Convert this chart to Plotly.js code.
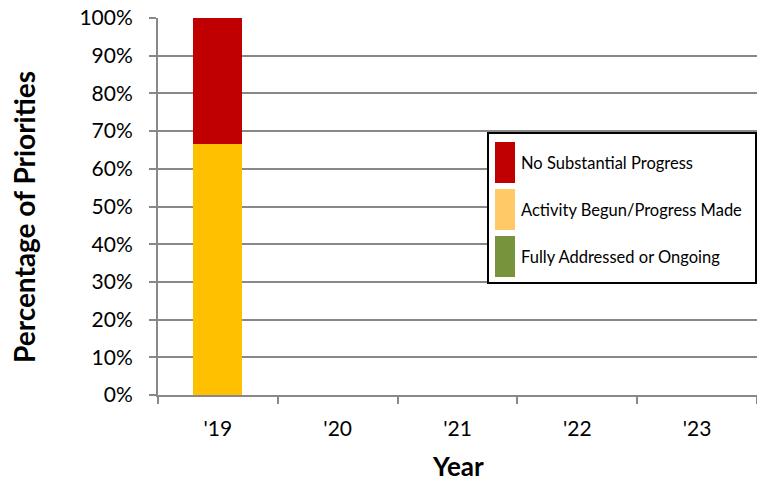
<!DOCTYPE html>
<html><head><meta charset="utf-8">
<script src="https://cdn.plot.ly/plotly-3.0.1.min.js"></script>
<style>html,body{margin:0;padding:0;background:#fff;}#chart{width:757px;height:482px;}</style>
</head><body><div id="chart"></div>
<script>
// ---- data ----
const years = ["'19", "'20", "'21", "'22", "'23"];
const fullyAddressed = [0, null, null, null, null];
const activityBegun = [0.667, null, null, null, null];
const noProgress = [0.333, null, null, null, null];
const seriesNames = ["No Substantial Progress", "Activity Begun/Progress Made", "Fully Addressed or Ongoing"];
const barColors = ["#C00000", "#FFC000", "#77933C"];
const legendColors = ["#C00000", "#FFC966", "#77933C"];
const yTickVals = [0, 0.1, 0.2, 0.3, 0.4, 0.5, 0.6, 0.7, 0.8, 0.9, 1.0];
const xTitle = "Year";
const yTitle = "Percentage of Priorities";

const W = 757, H = 482;
const M = {l: 158, r: 0, t: 18, b: 87};
const pw = W - M.l - M.r, ph = H - M.t - M.b;
const px = x => (x - M.l) / pw;
const py = y => (H - M.b - y) / ph;

const FONT = "Lato, 'Liberation Sans', sans-serif";
const bw = 0.41;

const traces = [
  {type: 'bar', x: years, y: fullyAddressed, name: seriesNames[2], marker: {color: barColors[2]}, width: bw},
  {type: 'bar', x: years, y: activityBegun, name: seriesNames[1], marker: {color: barColors[1]}, width: bw},
  {type: 'bar', x: years, y: noProgress, name: seriesNames[0], marker: {color: barColors[0]}, width: bw}
];

// legend box built from series names/colours
const shapes = [{type: 'rect', xref: 'paper', yref: 'paper', x0: px(488), x1: px(756), y0: py(283), y1: py(133),
  line: {color: '#000', width: 2}, fillcolor: '#fff', layer: 'above'}];
const annotations = [];
const rowTops = [142, 189, 236];
for (let i = 0; i < 3; i++) {
  shapes.push({type: 'rect', xref: 'paper', yref: 'paper', x0: px(495), x1: px(515), y0: py(rowTops[i] + 41), y1: py(rowTops[i]),
    line: {width: 0}, fillcolor: legendColors[i], layer: 'above'});
  annotations.push({xref: 'paper', yref: 'paper', x: px(519), y: py(rowTops[i] + 20.5), xanchor: 'left', yanchor: 'middle',
    text: seriesNames[i], showarrow: false, font: {family: FONT, size: 16.5, color: '#000'}});
}
// axis titles
annotations.push({xref: 'paper', yref: 'paper', x: px(458), y: py(466), xanchor: 'center', yanchor: 'middle',
  text: '<b>' + xTitle + '</b>', showarrow: false, font: {family: FONT, size: 26, color: '#000'}});
annotations.push({xref: 'paper', yref: 'paper', x: px(24), y: py(217), xanchor: 'center', yanchor: 'middle', textangle: -90,
  text: '<b>' + yTitle + '</b>', showarrow: false, font: {family: FONT, size: 28, color: '#000'}});

const layout = {
  width: W, height: H,
  margin: M,
  paper_bgcolor: '#fff', plot_bgcolor: '#fff',
  barmode: 'stack',
  showlegend: false,
  font: {family: FONT, color: '#000'},
  xaxis: {
    type: 'category', tickson: 'boundaries', ticks: 'outside', ticklen: 7, tickwidth: 2, tickcolor: '#888',
    showline: true, linecolor: '#888', linewidth: 2, showgrid: false,
    tickfont: {family: FONT, size: 21, color: '#000'}, ticklabelstandoff: 14,
    range: [-0.5, 4.5], fixedrange: true
  },
  yaxis: {
    range: [0, 1], tickvals: yTickVals, tickformat: '.0%', ticks: 'outside', ticklen: 7, tickwidth: 2, tickcolor: '#888',
    showline: true, linecolor: '#888', linewidth: 2, showgrid: true, gridcolor: '#888', gridwidth: 2,
    zeroline: false,
    tickfont: {family: FONT, size: 21, color: '#000'}, ticklabelstandoff: 12,
    fixedrange: true
  },
  shapes: shapes,
  annotations: annotations
};

Plotly.newPlot('chart', traces, layout, {displayModeBar: false, staticPlot: true});
</script></body></html>
